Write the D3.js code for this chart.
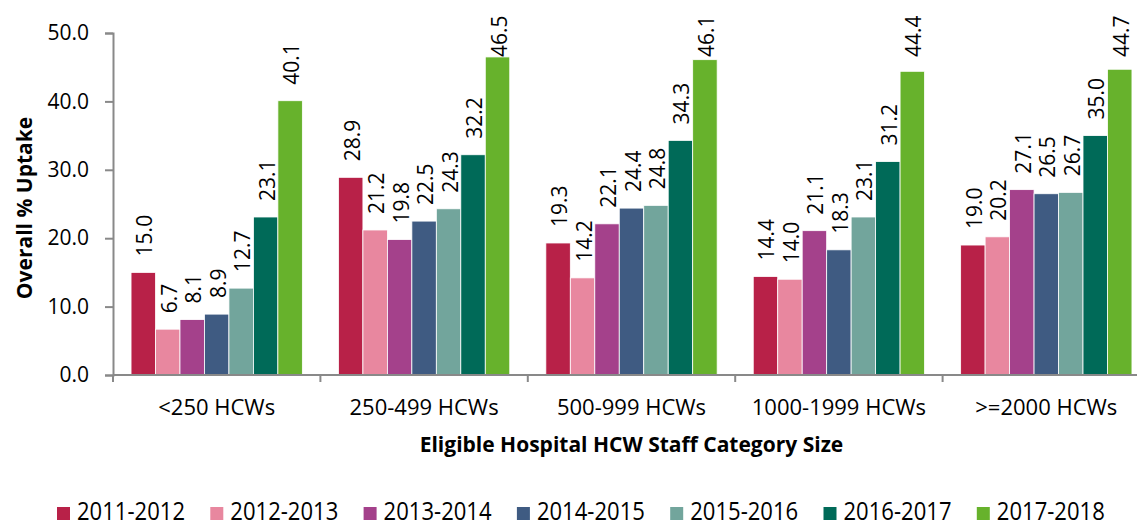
<!DOCTYPE html>
<html>
<head>
<meta charset="utf-8">
<script src="https://cdn.jsdelivr.net/npm/d3@7"></script>
<style>
  body { margin: 0; background: #fff; overflow: hidden; }
  svg { display: block; }
  text { font-family: "Open Sans", sans-serif; fill: #000; }
</style>
</head>
<body>
<svg id="chart" width="1137" height="522"></svg>
<script>
const categories = ["<250 HCWs", "250-499 HCWs", "500-999 HCWs", "1000-1999 HCWs", ">=2000 HCWs"];
const seasons = ["2011-2012", "2012-2013", "2013-2014", "2014-2015", "2015-2016", "2016-2017", "2017-2018"];
const colors = ["#B82148", "#E8879F", "#A4418B", "#3F5B82", "#72A59C", "#006A58", "#67B22C"];

// one array per category, values in season order
const under250 = [15.0, 6.7, 8.1, 8.9, 12.7, 23.1, 40.1];
const from250to499 = [28.9, 21.2, 19.8, 22.5, 24.3, 32.2, 46.5];
const from500to999 = [19.3, 14.2, 22.1, 24.4, 24.8, 34.3, 46.1];
const from1000to1999 = [14.4, 14.0, 21.1, 18.3, 23.1, 31.2, 44.4];
const over2000 = [19.0, 20.2, 27.1, 26.5, 26.7, 35.0, 44.7];
const yTicks = [0, 10, 20, 30, 40, 50];

const values = [under250, from250to499, from500to999, from1000to1999, over2000];

const svg = d3.select("#chart");
const margin = { top: 33, left: 113, bottom: 147 };
const plotRight = 1150;
const innerWidth = plotRight - margin.left;
const innerHeight = 522 - margin.top - margin.bottom;

const g = svg.append("g")
  .attr("transform", `translate(${margin.left},${margin.top})`);

const x0 = d3.scaleBand()
  .domain(categories)
  .range([0, innerWidth])
  .paddingInner(0.174)
  .paddingOuter(0.087);

const x1 = d3.scaleBand()
  .domain(seasons)
  .range([0, x0.bandwidth()]);

const y = d3.scaleLinear()
  .domain([0, 50])
  .range([innerHeight, 0]);

// bars
const groups = g.selectAll("g.cat")
  .data(categories)
  .enter()
  .append("g")
  .attr("class", "cat")
  .attr("transform", d => `translate(${x0(d)},0)`);

groups.each(function(cat, ci) {
  const grp = d3.select(this);
  const rows = values[ci].map((v, i) => ({ season: seasons[i], value: v, color: colors[i] }));

  grp.selectAll("rect")
    .data(rows)
    .enter()
    .append("rect")
    .attr("x", d => x1(d.season))
    .attr("y", d => y(d.value))
    .attr("width", x1.bandwidth())
    .attr("height", d => innerHeight - y(d.value))
    .attr("fill", d => d.color)
    .attr("stroke", "#fff")
    .attr("stroke-width", 0.8);

  // labels sit above the bar, but are held down so they stay inside the picture
  grp.selectAll("text")
    .data(rows)
    .enter()
    .append("text")
    .attr("transform", d => {
      const cx = x1(d.season) + x1.bandwidth() / 2;
      const cy = Math.max(y(d.value) - 16, 57 - margin.top);
      return `translate(${cx},${cy}) rotate(-90)`;
    })
    .attr("y", 9)
    .style("font-size", "21px")
    .text(d => d.value.toFixed(1));
});

// y axis
const yAxis = g.append("g")
  .call(d3.axisLeft(y).tickValues(yTicks).tickSize(8).tickPadding(16).tickFormat(d3.format(".1f")));
yAxis.select(".domain").attr("stroke", "#898989").attr("stroke-width", 2);
yAxis.selectAll(".tick line").attr("stroke", "#898989").attr("stroke-width", 2);
yAxis.selectAll(".tick text")
  .style("font-size", "21px")
  .style("font-family", "Open Sans")
  .attr("fill", "#000");

// x axis
const bandStep = x0.step();
const xAxis = g.append("g")
  .attr("transform", `translate(0,${innerHeight})`);
xAxis.append("line")
  .attr("x1", 0).attr("x2", innerWidth)
  .attr("stroke", "#898989").attr("stroke-width", 2);
xAxis.selectAll("line.tk")
  .data(d3.range(categories.length + 1))
  .enter()
  .append("line")
  .attr("class", "tk")
  .attr("x1", i => i * bandStep).attr("x2", i => i * bandStep)
  .attr("y1", 0).attr("y2", 7)
  .attr("stroke", "#898989").attr("stroke-width", 2);
xAxis.selectAll("text")
  .data(categories)
  .enter()
  .append("text")
  .attr("x", d => x0(d) + x0.bandwidth() / 2)
  .attr("y", 40)
  .attr("text-anchor", "middle")
  .style("font-size", "22px")
  .text(d => d);

// axis titles
g.append("text")
  .attr("x", innerWidth / 2)
  .attr("y", innerHeight + 77)
  .attr("text-anchor", "middle")
  .style("font-size", "21px")
  .style("font-weight", "bold")
  .text("Eligible Hospital HCW Staff Category Size");

svg.append("text")
  .attr("transform", `translate(24,208) rotate(-90)`)
  .attr("text-anchor", "middle")
  .attr("dominant-baseline", "central")
  .style("font-size", "21px")
  .style("font-weight", "bold")
  .text("Overall % Uptake");

// legend
const legend = svg.append("g")
  .attr("transform", "translate(57,507)");
const item = legend.selectAll("g")
  .data(seasons)
  .enter()
  .append("g")
  .attr("transform", (d, i) => `translate(${i * 153.3},0)`);
item.append("rect")
  .attr("width", 13).attr("height", 13)
  .attr("fill", (d, i) => colors[i]);
item.append("text")
  .attr("x", 20)
  .attr("y", 13)
  .attr("textLength", 108)
  .attr("lengthAdjust", "spacingAndGlyphs")
  .style("font-size", "25px")
  .text(d => d);
</script>
</body>
</html>
